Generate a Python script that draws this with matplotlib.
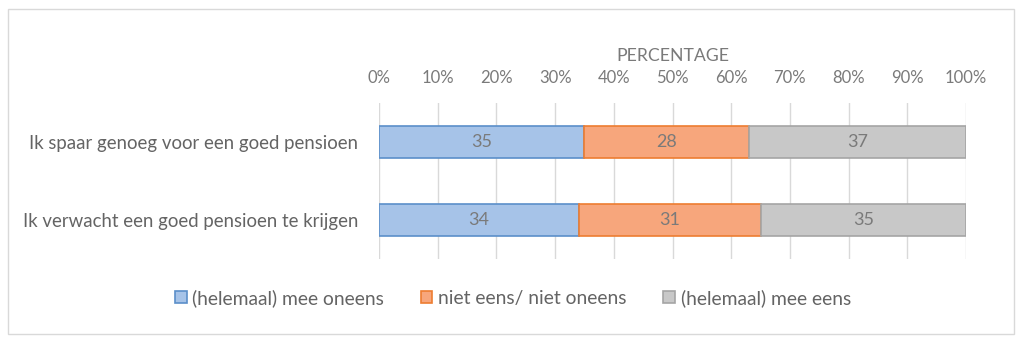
import matplotlib
matplotlib.use("Agg")
import matplotlib.pyplot as plt
from matplotlib.patches import Rectangle
from matplotlib.ticker import FuncFormatter

categories = ["Ik spaar genoeg voor een goed pensioen", "Ik verwacht een goed pensioen te krijgen"]
series_names = ["(helemaal) mee oneens", "niet eens/ niet oneens", "(helemaal) mee eens"]
oneens = [35, 34]
neutraal = [28, 31]
eens = [37, 35]
x_ticks = [0, 10, 20, 30, 40, 50, 60, 70, 80, 90, 100]

plt.rcParams['font.family'] = ['Lato', 'DejaVu Sans']
txt = '#646464'
light = '#7a7a7a'
fills = ['#a6c3e8', '#f7a67c', '#c8c8c8']
edges = ['#5b8fc9', '#ed7d31', '#a5a5a5']

fig = plt.figure(figsize=(10.24, 3.44), dpi=100)
fig.patches.append(Rectangle((0.008, 0.03), 0.982, 0.945, transform=fig.transFigure,
                             fill=False, edgecolor='#d9d9d9', linewidth=1))
ax = fig.add_axes([379/1024, 1-259/344, (966-379)/1024, (259-103)/344])

y = list(range(len(categories)))
left = [0]*len(categories)
for vals, name, fc, ec in zip([oneens, neutraal, eens], series_names, fills, edges):
    ax.barh(y, vals, left=left, height=0.4, color=fc, edgecolor=ec, linewidth=1.2, label=name, zorder=3)
    for yi, l, v in zip(y, left, vals):
        ax.text(l + v/2, yi, str(v), ha='center', va='center', color=light, fontsize=13, zorder=4)
    left = [a+b for a, b in zip(left, vals)]

ax.set_xlim(0, 100)
ax.set_ylim(1.5, -0.5)
ax.set_xticks(x_ticks)
ax.xaxis.set_major_formatter(FuncFormatter(lambda v, p: f"{int(v)}%"))
ax.xaxis.tick_top()
ax.xaxis.set_label_position('top')
ax.set_xlabel('PERCENTAGE', color=light, fontsize=12.7, labelpad=7)
ax.set_yticks(y)
ax.set_yticklabels(categories)
ax.tick_params(axis='x', length=0, colors=light, labelsize=12, pad=12)
ax.tick_params(axis='y', length=0, colors=txt, labelsize=13.4, pad=15)
ax.grid(axis='x', color='#d9d9d9', linewidth=1, zorder=0)
for s in ax.spines.values():
    s.set_visible(False)

leg = fig.legend(loc='center', bbox_to_anchor=(0.501, 1-298/344), ncol=3, frameon=False,
                 fontsize=13.9, handlelength=0.6, handleheight=0.6, handletextpad=0.3,
                 columnspacing=1.9, labelcolor=txt)
fig.savefig('out.png', dpi=100)
